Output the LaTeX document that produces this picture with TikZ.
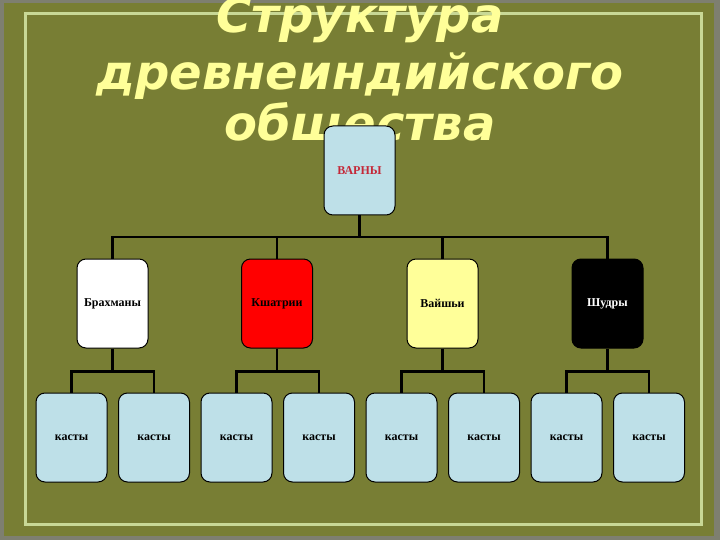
\documentclass[tikz,border=0pt]{standalone}
\usepackage{fontspec}
\setmainfont{Liberation Serif}
\newfontfamily\titlefont{DejaVu Sans}
\usepackage{tikz}
\usetikzlibrary{positioning, calc}

\definecolor{olivebg}{RGB}{120,126,52}
\definecolor{framegreen}{RGB}{200,216,150}
\definecolor{titleyellow}{RGB}{255,255,153}
\definecolor{boxblue}{RGB}{190,224,232}
\definecolor{varnyred}{RGB}{196,40,56}

\begin{document}
\begin{tikzpicture}[
  x=1pt, y=-1pt,
  title/.style={anchor=base, text=titleyellow, font=\titlefont\bfseries\itshape\fontsize{48}{52}\selectfont},
  box/.style={draw, rounded corners=9pt, minimum width=71pt, minimum height=89pt, align=center, font=\bfseries\fontsize{12}{14}\selectfont, line width=1pt, inner sep=0pt},
  link/.style={line width=2.2pt}
]
  % background and frame
  \useasboundingbox (0,0) rectangle (720,540);
  \fill[gray!80!olivebg] (0,0) rectangle (720,540);
  \fill[olivebg] (4,3) rectangle (714,536);
  \draw[framegreen, line width=3pt] (25,14) rectangle (701,524);

  % title
  \node[title] (t1) at (360,33) {Структура};
  \node[title] (t2) at (360,90) {древнеиндийского};
  \node[title] (t3) at (360,141) {общества};

  % top
  \node[box, fill=boxblue, text=varnyred] (varny) at (359.5,170.5) {ВАРНЫ};
  \coordinate (bus) at (359.5,237);

  % varnas
  \node[box, fill=white] (brahm) at (112.5,303.5) {Брахманы};
  \node[box, fill=red] (kshat) at (277,303.5) {Кшатрии};
  \node[box, fill=titleyellow] (vaish) at (442.5,303.5) {Вайшьи};
  \node[box, fill=black, text=white] (shudr) at (607.5,303.5) {Шудры};

  % castes
  \node[box, fill=boxblue] (c1) at (71.5,437.5) {касты};
  \node[box, fill=boxblue] (c2) at (154,437.5) {касты};
  \node[box, fill=boxblue] (c3) at (236.5,437.5) {касты};
  \node[box, fill=boxblue] (c4) at (319,437.5) {касты};
  \node[box, fill=boxblue] (c5) at (401.5,437.5) {касты};
  \node[box, fill=boxblue] (c6) at (484,437.5) {касты};
  \node[box, fill=boxblue] (c7) at (566.5,437.5) {касты};
  \node[box, fill=boxblue] (c8) at (649,437.5) {касты};

  \draw[link] (varny) -- (bus);
  \draw[link] (brahm.north) |- (bus) -| (shudr.north);
  \draw[link] (kshat.north) -- (kshat.north |- bus);
  \draw[link] (vaish.north) -- (vaish.north |- bus);

  \draw[link] (brahm.south) -- ($(brahm.south)+(0,23)$) coordinate (b1);
  \draw[link] (c1.north) |- (b1) -| (c2.north);
  \draw[link] (kshat.south) -- ($(kshat.south)+(0,23)$) coordinate (b2);
  \draw[link] (c3.north) |- (b2) -| (c4.north);
  \draw[link] (vaish.south) -- ($(vaish.south)+(0,23)$) coordinate (b3);
  \draw[link] (c5.north) |- (b3) -| (c6.north);
  \draw[link] (shudr.south) -- ($(shudr.south)+(0,23)$) coordinate (b4);
  \draw[link] (c7.north) |- (b4) -| (c8.north);
\end{tikzpicture}
\end{document}
